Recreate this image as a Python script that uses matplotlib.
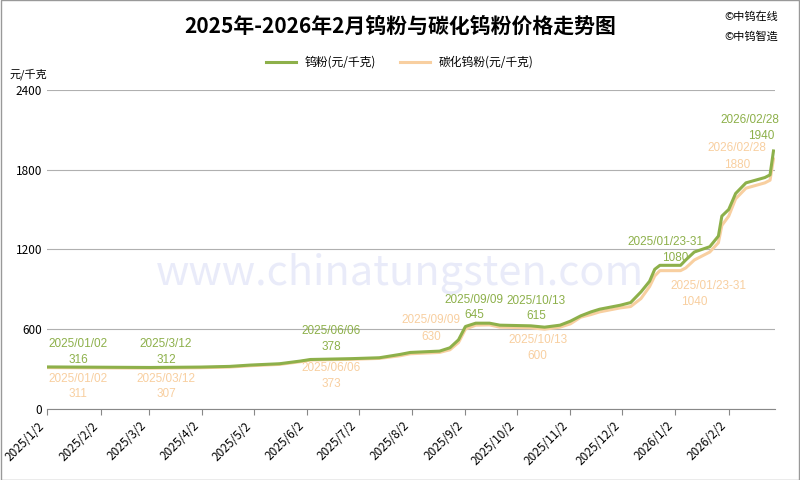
import matplotlib
matplotlib.use("Agg")
import matplotlib.pyplot as plt
import pandas as pd

plt.rcParams['font.family'] = ['Noto Sans CJK SC', 'DejaVu Sans']

dates = ["2025-01-02","2025-03-03","2025-04-01","2025-04-18","2025-04-30","2025-05-17","2025-05-29",
         "2025-06-04","2025-06-27","2025-07-14","2025-07-26","2025-08-01","2025-08-18","2025-08-24",
         "2025-08-29","2025-09-02","2025-09-08","2025-09-16","2025-09-22","2025-10-10","2025-10-18",
         "2025-10-27","2025-11-02","2025-11-08","2025-11-14","2025-11-19","2025-12-01","2025-12-07",
         "2025-12-13","2025-12-18","2025-12-21","2025-12-24","2026-01-05","2026-01-08","2026-01-13",
         "2026-01-22","2026-01-27","2026-01-29","2026-02-02","2026-02-06","2026-02-09","2026-02-12",
         "2026-02-23","2026-02-26","2026-02-28"]
tungsten_powder = [316,312,315,320,330,340,360,372,378,385,410,425,435,460,520,620,645,645,630,625,615,
                   630,660,700,730,750,780,800,880,960,1050,1080,1080,1120,1180,1220,1300,1450,1500,1620,
                   1660,1700,1740,1760,1940]
tungsten_carbide = [311,307,310,315,325,335,355,368,373,380,400,415,425,445,500,600,630,632,615,610,600,
                    615,640,690,710,730,760,770,830,920,1000,1040,1040,1060,1120,1180,1250,1380,1450,1580,
                    1620,1660,1700,1720,1880]
tick_labels = ["2025/1/2","2025/2/2","2025/3/2","2025/4/2","2025/5/2","2025/6/2","2025/7/2","2025/8/2",
               "2025/9/2","2025/10/2","2025/11/2","2025/12/2","2026/1/2","2026/2/2"]

d = pd.to_datetime(dates)
green = "#8db04a"
peach = "#f8cfa0"

fig = plt.figure(figsize=(8, 4.8), dpi=100)
ax = fig.add_axes([0.059, 0.148, 0.91, 0.665])
ax.plot(d, tungsten_powder, color=green, lw=2.2, label="钨粉(元/千克)", zorder=3)
ax.plot(d, tungsten_carbide, color=peach, lw=2.2, label="碳化钨粉(元/千克)", zorder=2)

ticks = pd.to_datetime([t.replace("/", "-") for t in tick_labels])
ax.set_xticks(ticks)
ax.set_xticklabels(tick_labels, rotation=45, ha="right", fontsize=8.5)
ax.set_xlim(pd.Timestamp("2025-01-02"), pd.Timestamp("2026-03-01"))
ax.set_ylim(0, 2400)
ax.set_yticks([0, 600, 1200, 1800, 2400])
ax.tick_params(axis='y', labelsize=8.5, length=0)
ax.tick_params(axis='x', length=4, color="#888888")
ax.yaxis.grid(True, color="#b0b0b0", lw=0.8)
for s in ["top", "right", "left"]:
    ax.spines[s].set_visible(False)
ax.spines["bottom"].set_color("#888888")

fig.text(0.5, 0.945, "2025年-2026年2月钨粉与碳化钨粉价格走势图", ha="center", va="center",
         fontsize=15, fontweight="bold")
fig.text(0.905, 0.965, "©中钨在线", fontsize=8, va="center")
fig.text(0.905, 0.925, "©中钨智造", fontsize=8, va="center")
fig.text(0.012, 0.845, "元/千克", fontsize=8, va="center")
fig.legend(loc="center", bbox_to_anchor=(0.5, 0.87), ncol=2, frameon=False, fontsize=8.5,
           handlelength=2.5, columnspacing=2)
fig.text(0.5, 0.43, "www.chinatungsten.com", ha="center", va="center", fontsize=30,
         color="#d4d8f4", alpha=0.5, zorder=0)

def ann(date, y, txt, col):
    ax.text(pd.Timestamp(date), y, txt, color=col, fontsize=8.5, ha="center", va="center",
            family=['Liberation Sans', 'DejaVu Sans'])

ann("2025-01-20", 489, "2025/01/02", green); ann("2025-01-20", 368, "316", green)
ann("2025-01-20", 226, "2025/01/02", peach); ann("2025-01-20", 113, "311", peach)
ann("2025-03-12", 489, "2025/3/12", green); ann("2025-03-12", 368, "312", green)
ann("2025-03-12", 226, "2025/03/12", peach); ann("2025-03-12", 113, "307", peach)
ann("2025-06-16", 586, "2025/06/06", green); ann("2025-06-16", 466, "378", green)
ann("2025-06-16", 308, "2025/06/06", peach); ann("2025-06-16", 188, "373", peach)
ann("2025-08-13", 669, "2025/09/09", peach); ann("2025-08-13", 541, "630", peach)
ann("2025-09-07", 820, "2025/09/09", green); ann("2025-09-07", 707, "645", green)
ann("2025-10-13", 812, "2025/10/13", green); ann("2025-10-13", 699, "615", green)
ann("2025-10-14", 519, "2025/10/13", peach); ann("2025-10-14", 398, "600", peach)
ann("2025-12-27", 1256, "2025/01/23-31", green); ann("2026-01-02", 1135, "1080", green)
ann("2026-01-21", 925, "2025/01/23-31", peach); ann("2026-01-13", 804, "1040", peach)
ann("2026-02-14", 2173, "2026/02/28", green); ann("2026-02-21", 2053, "1940", green)
ann("2026-02-07", 1962, "2026/02/28", peach); ann("2026-02-07", 1835, "1880", peach)

fig.patches.append(plt.Rectangle((0.001, 0.001), 0.998, 0.998, transform=fig.transFigure,
                                 fill=False, edgecolor="#999999", lw=1))
fig.savefig("out.png", dpi=100)
